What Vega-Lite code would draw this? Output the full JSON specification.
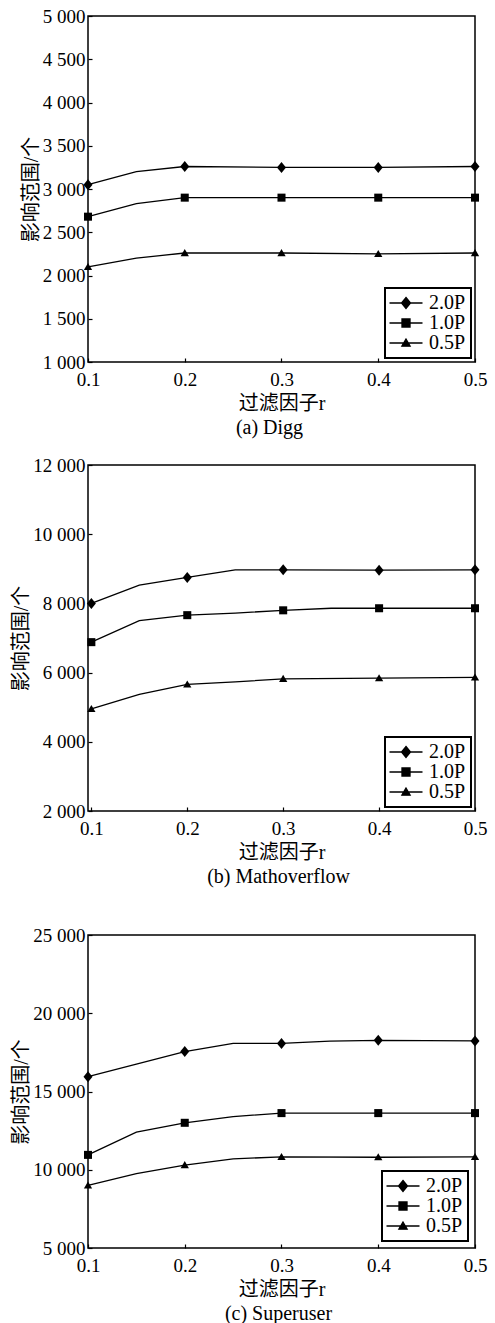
{
  "$schema": "https://vega.github.io/schema/vega-lite/v6.json",
  "padding": {"left": 11, "top": 6, "right": 6, "bottom": 0},
  "config": {
    "font": "Liberation Serif, Noto Sans CJK SC",
    "view": {"stroke": "black", "strokeWidth": 1.5},
    "axis": {"domain": false, "grid": false, "tickColor": "black", "tickSize": -4, "tickWidth": 1.2, "labelFont": "Liberation Serif", "labelFontSize": 19, "labelColor": "black", "labelFlush": false, "titleFont": "Liberation Serif, Noto Sans CJK SC", "titleFontSize": 20, "titleFontWeight": "normal", "titleColor": "black"},
    "axisX": {"labelPadding": 12, "titlePadding": 4},
    "axisY": {"labelPadding": 7, "titlePadding": 1},
    "legend": {"orient": "bottom-right", "offset": 4, "strokeColor": "black", "strokeWidth": 2, "padding": 5, "fillColor": "white", "labelFont": "Liberation Serif", "labelFontSize": 20, "labelColor": "black", "symbolSize": 121, "symbolStrokeWidth": 1.3, "symbolOpacity": 1, "symbolOffset": 6, "labelOffset": 13, "rowPadding": 0, "titlePadding": 0},
    "title": {"orient": "bottom", "fontSize": 20, "fontWeight": "normal", "color": "black", "offset": 5, "frame": "group", "font": "Liberation Serif"}
  },
  "datasets": {
    "a": [
      {"r": 0.1, "s": "2.0P", "v": 3050}, {"r": 0.15, "s": "2.0P", "v": 3200}, {"r": 0.2, "s": "2.0P", "v": 3260}, {"r": 0.3, "s": "2.0P", "v": 3250}, {"r": 0.4, "s": "2.0P", "v": 3250}, {"r": 0.5, "s": "2.0P", "v": 3260},
      {"r": 0.1, "s": "1.0P", "v": 2680}, {"r": 0.15, "s": "1.0P", "v": 2830}, {"r": 0.2, "s": "1.0P", "v": 2900}, {"r": 0.3, "s": "1.0P", "v": 2900}, {"r": 0.4, "s": "1.0P", "v": 2900}, {"r": 0.5, "s": "1.0P", "v": 2900},
      {"r": 0.1, "s": "0.5P", "v": 2100}, {"r": 0.15, "s": "0.5P", "v": 2200}, {"r": 0.2, "s": "0.5P", "v": 2260}, {"r": 0.3, "s": "0.5P", "v": 2260}, {"r": 0.4, "s": "0.5P", "v": 2250}, {"r": 0.5, "s": "0.5P", "v": 2260}
    ],
    "b": [
      {"r": 0.1, "s": "2.0P", "v": 8000}, {"r": 0.15, "s": "2.0P", "v": 8530}, {"r": 0.2, "s": "2.0P", "v": 8750}, {"r": 0.25, "s": "2.0P", "v": 8970}, {"r": 0.3, "s": "2.0P", "v": 8970}, {"r": 0.4, "s": "2.0P", "v": 8960}, {"r": 0.5, "s": "2.0P", "v": 8970},
      {"r": 0.1, "s": "1.0P", "v": 6880}, {"r": 0.15, "s": "1.0P", "v": 7500}, {"r": 0.2, "s": "1.0P", "v": 7660}, {"r": 0.25, "s": "1.0P", "v": 7720}, {"r": 0.3, "s": "1.0P", "v": 7800}, {"r": 0.35, "s": "1.0P", "v": 7860}, {"r": 0.4, "s": "1.0P", "v": 7860}, {"r": 0.5, "s": "1.0P", "v": 7860},
      {"r": 0.1, "s": "0.5P", "v": 4950}, {"r": 0.15, "s": "0.5P", "v": 5370}, {"r": 0.2, "s": "0.5P", "v": 5660}, {"r": 0.25, "s": "0.5P", "v": 5730}, {"r": 0.3, "s": "0.5P", "v": 5820}, {"r": 0.4, "s": "0.5P", "v": 5840}, {"r": 0.5, "s": "0.5P", "v": 5860}
    ],
    "c": [
      {"r": 0.1, "s": "2.0P", "v": 15950}, {"r": 0.15, "s": "2.0P", "v": 16750}, {"r": 0.2, "s": "2.0P", "v": 17550}, {"r": 0.25, "s": "2.0P", "v": 18070}, {"r": 0.3, "s": "2.0P", "v": 18070}, {"r": 0.35, "s": "2.0P", "v": 18220}, {"r": 0.4, "s": "2.0P", "v": 18270}, {"r": 0.5, "s": "2.0P", "v": 18230},
      {"r": 0.1, "s": "1.0P", "v": 10950}, {"r": 0.15, "s": "1.0P", "v": 12400}, {"r": 0.2, "s": "1.0P", "v": 13000}, {"r": 0.25, "s": "1.0P", "v": 13400}, {"r": 0.3, "s": "1.0P", "v": 13620}, {"r": 0.4, "s": "1.0P", "v": 13620}, {"r": 0.5, "s": "1.0P", "v": 13620},
      {"r": 0.1, "s": "0.5P", "v": 9000}, {"r": 0.15, "s": "0.5P", "v": 9750}, {"r": 0.2, "s": "0.5P", "v": 10300}, {"r": 0.25, "s": "0.5P", "v": 10700}, {"r": 0.3, "s": "0.5P", "v": 10820}, {"r": 0.4, "s": "0.5P", "v": 10800}, {"r": 0.5, "s": "0.5P", "v": 10820}
    ]
  },
  "spacing": 37,
  "vconcat": [
    {
      "spacing": 16,
      "vconcat": [
        {
          "width": 387, "height": 346,
          "title": {"text": "(a) Digg", "dx": -12},
          "data": {"name": "a"},
          "encoding": {
            "x": {"field": "r", "type": "quantitative", "scale": {"domain": [0.1, 0.5], "nice": false, "zero": false}, "axis": {"values": [0.1, 0.2, 0.3, 0.4, 0.5], "format": ".1f", "title": "过滤因子r"}},
            "y": {"field": "v", "type": "quantitative", "scale": {"domain": [1000, 5000], "nice": false, "zero": false}, "axis": {"values": [1000, 1500, 2000, 2500, 3000, 3500, 4000, 4500, 5000], "labelExpr": "replace(format(datum.value, ','), ',', ' ')", "title": "影响范围/个"}}
          },
          "layer": [
            {"mark": {"type": "line", "color": "black", "strokeWidth": 1.3}, "encoding": {"detail": {"field": "s"}}},
            {"transform": [{"filter": "indexof([0.1, 0.2, 0.3, 0.4, 0.5], datum.r) >= 0"}], "mark": {"type": "point", "filled": true, "color": "black", "size": 121, "opacity": 1}, "encoding": {"shape": {"field": "s", "type": "nominal", "scale": {"domain": ["2.0P", "1.0P", "0.5P"], "range": ["M0,-1L0.82,0L0,1L-0.82,0Z", "M-0.73,-0.73H0.73V0.73H-0.73Z", "M0,-0.72L0.75,0.57H-0.75Z"]}, "legend": null}}},
            {"transform": [{"filter": "indexof([0.1, 0.2, 0.3, 0.4, 0.5], datum.r) >= 0"}], "mark": {"type": "point", "filled": true, "fill": "black", "stroke": "black", "strokeWidth": 1.3, "size": 121, "opacity": 0}, "encoding": {"shape": {"field": "s", "type": "nominal", "scale": {"domain": ["2.0P", "1.0P", "0.5P"], "range": ["M-3,0H3M0,-1L0.82,0L0,1L-0.82,0Z", "M-3,0H3M-0.73,-0.73H0.73V0.73H-0.73Z", "M-3,0H3M0,-0.72L0.75,0.57H-0.75Z"]}, "legend": {"title": null}}}}
          ],
          "resolve": {"scale": {"shape": "independent"}, "legend": {"shape": "independent"}}
        },
        {
          "width": 387, "height": 346,
          "title": {"text": "(b) Mathoverflow", "dx": -3},
          "data": {"name": "b"},
          "encoding": {
            "x": {"field": "r", "type": "quantitative", "scale": {"domain": [0.0965, 0.5], "nice": false, "zero": false}, "axis": {"values": [0.1, 0.2, 0.3, 0.4, 0.5], "format": ".1f", "title": "过滤因子r"}},
            "y": {"field": "v", "type": "quantitative", "scale": {"domain": [2000, 12000], "nice": false, "zero": false}, "axis": {"values": [2000, 4000, 6000, 8000, 10000, 12000], "labelExpr": "replace(format(datum.value, ','), ',', ' ')", "title": "影响范围/个"}}
          },
          "layer": [
            {"mark": {"type": "line", "color": "black", "strokeWidth": 1.3}, "encoding": {"detail": {"field": "s"}}},
            {"transform": [{"filter": "indexof([0.1, 0.2, 0.3, 0.4, 0.5], datum.r) >= 0"}], "mark": {"type": "point", "filled": true, "color": "black", "size": 121, "opacity": 1}, "encoding": {"shape": {"field": "s", "type": "nominal", "scale": {"domain": ["2.0P", "1.0P", "0.5P"], "range": ["M0,-1L0.82,0L0,1L-0.82,0Z", "M-0.73,-0.73H0.73V0.73H-0.73Z", "M0,-0.72L0.75,0.57H-0.75Z"]}, "legend": null}}},
            {"transform": [{"filter": "indexof([0.1, 0.2, 0.3, 0.4, 0.5], datum.r) >= 0"}], "mark": {"type": "point", "filled": true, "fill": "black", "stroke": "black", "strokeWidth": 1.3, "size": 121, "opacity": 0}, "encoding": {"shape": {"field": "s", "type": "nominal", "scale": {"domain": ["2.0P", "1.0P", "0.5P"], "range": ["M-3,0H3M0,-1L0.82,0L0,1L-0.82,0Z", "M-3,0H3M-0.73,-0.73H0.73V0.73H-0.73Z", "M-3,0H3M0,-0.72L0.75,0.57H-0.75Z"]}, "legend": {"title": null}}}}
          ],
          "resolve": {"scale": {"shape": "independent"}, "legend": {"shape": "independent"}}
        }
      ]
    },
    {
      "width": 387, "height": 313,
      "title": {"text": "(c) Superuser", "dx": -3},
      "data": {"name": "c"},
      "encoding": {
        "x": {"field": "r", "type": "quantitative", "scale": {"domain": [0.1, 0.5], "nice": false, "zero": false}, "axis": {"values": [0.1, 0.2, 0.3, 0.4, 0.5], "format": ".1f", "title": "过滤因子r"}},
        "y": {"field": "v", "type": "quantitative", "scale": {"domain": [5000, 25000], "nice": false, "zero": false}, "axis": {"values": [5000, 10000, 15000, 20000, 25000], "labelExpr": "replace(format(datum.value, ','), ',', ' ')", "title": "影响范围/个"}}
      },
      "layer": [
        {"mark": {"type": "line", "color": "black", "strokeWidth": 1.3}, "encoding": {"detail": {"field": "s"}}},
        {"transform": [{"filter": "indexof([0.1, 0.2, 0.3, 0.4, 0.5], datum.r) >= 0"}], "mark": {"type": "point", "filled": true, "color": "black", "size": 121, "opacity": 1}, "encoding": {"shape": {"field": "s", "type": "nominal", "scale": {"domain": ["2.0P", "1.0P", "0.5P"], "range": ["M0,-1L0.82,0L0,1L-0.82,0Z", "M-0.73,-0.73H0.73V0.73H-0.73Z", "M0,-0.72L0.75,0.57H-0.75Z"]}, "legend": null}}},
        {"transform": [{"filter": "indexof([0.1, 0.2, 0.3, 0.4, 0.5], datum.r) >= 0"}], "mark": {"type": "point", "filled": true, "fill": "black", "stroke": "black", "strokeWidth": 1.3, "size": 121, "opacity": 0}, "encoding": {"shape": {"field": "s", "type": "nominal", "scale": {"domain": ["2.0P", "1.0P", "0.5P"], "range": ["M-3,0H3M0,-1L0.82,0L0,1L-0.82,0Z", "M-3,0H3M-0.73,-0.73H0.73V0.73H-0.73Z", "M-3,0H3M0,-0.72L0.75,0.57H-0.75Z"]}, "legend": {"title": null, "offset": 7}}}}
      ],
      "resolve": {"scale": {"shape": "independent"}, "legend": {"shape": "independent"}}
    }
  ]
}
